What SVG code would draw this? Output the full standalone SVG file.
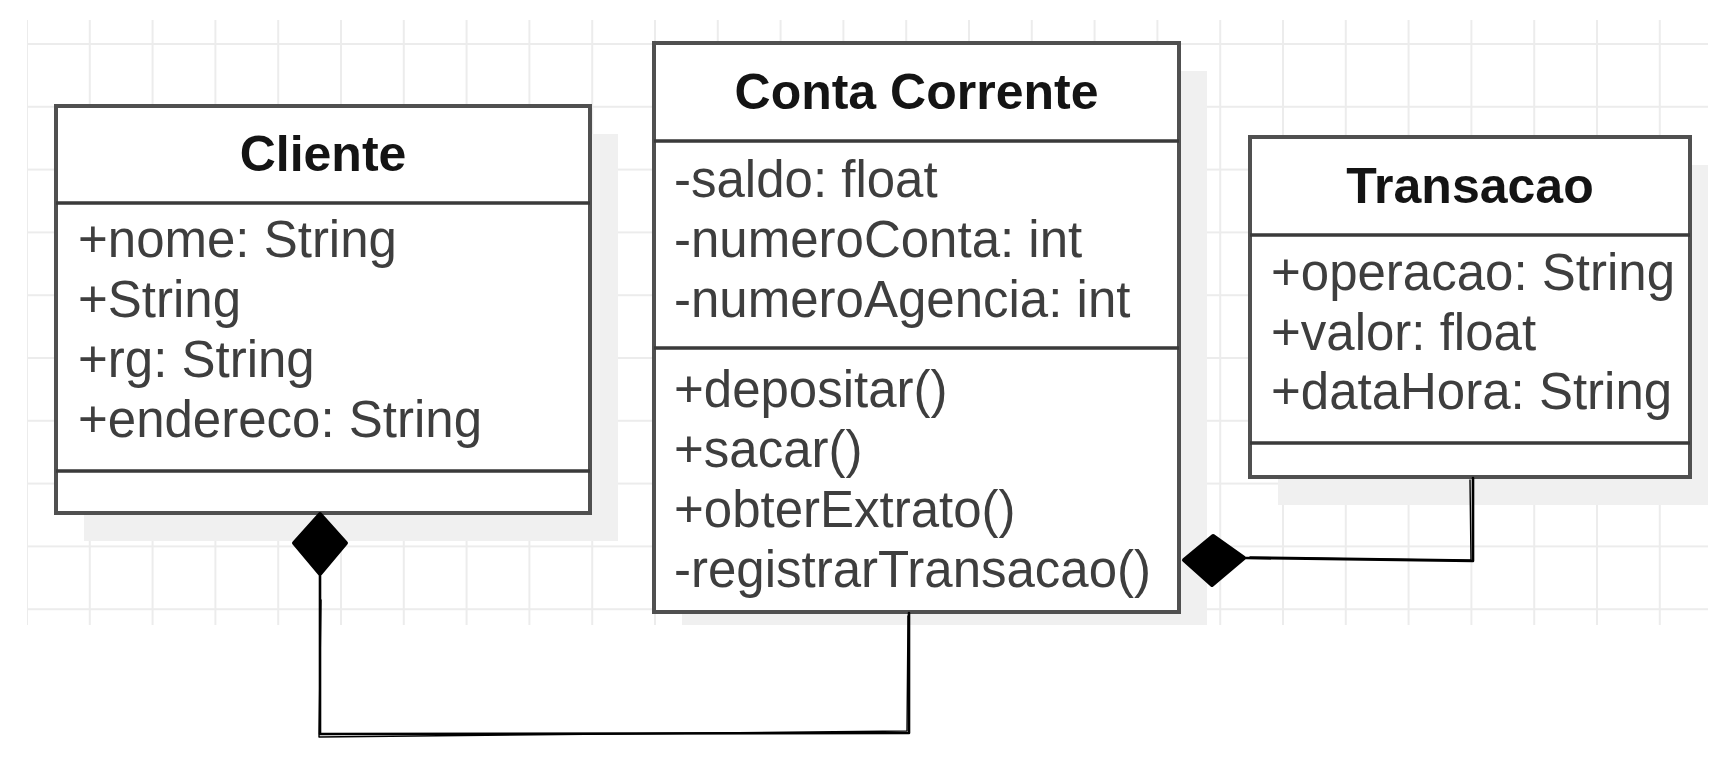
<svg xmlns="http://www.w3.org/2000/svg" width="1728" height="757" viewBox="0 0 1728 757">
  <defs>
    <pattern id="grid" x="26" y="43" width="62.8" height="62.8" patternUnits="userSpaceOnUse">
      <path d="M0 1H62.8M1 0V62.8" stroke="#ececec" stroke-width="2" fill="none"/>
    </pattern>
    <clipPath id="shot">
      <rect x="27" y="20" width="1681" height="605"/>
    </clipPath>
    <style>
      .shadow { fill: #f0f0f0; }
      .box { fill: #ffffff; stroke: #505050; stroke-width: 4; }
      .div { stroke: #3a3a3a; stroke-width: 3.5; fill: none; }
      .title { font-family: "Liberation Sans", Arial, sans-serif; font-weight: bold; font-size: 50px; fill: #141414; text-anchor: middle; }
      .attr { font-family: "Liberation Sans", Arial, sans-serif; font-size: 51px; fill: #3e3e3e; }
      .line { fill: none; stroke: #000; stroke-width: 2.6; stroke-linejoin: round; stroke-linecap: round; }
      .line2 { fill: none; stroke: #000; stroke-width: 1.4; stroke-linejoin: round; stroke-linecap: round; }
      .diamond { fill: #000; stroke: #000; stroke-width: 4; stroke-linejoin: round; }
    </style>
  </defs>

  <rect x="0" y="0" width="1728" height="757" fill="#ffffff"/>
  <g id="canvas">
    <rect x="27" y="20" width="1681" height="605" fill="url(#grid)"/>
  </g>

  <g id="cliente">
    <rect class="shadow" x="84" y="134" width="534" height="407" clip-path="url(#shot)"/>
    <rect class="box" x="56" y="106" width="534" height="407"/>
    <path class="div" d="M56 203H590M56 471H590"/>
    <text class="title" x="323" y="171">Cliente</text>
    <text class="attr" x="78" y="257">+nome: String</text>
    <text class="attr" x="78" y="317">+String</text>
    <text class="attr" x="78" y="377">+rg: String</text>
    <text class="attr" x="78" y="437">+endereco: String</text>
  </g>

  <g id="conta-corrente">
    <rect class="shadow" x="682" y="71" width="525" height="569" clip-path="url(#shot)"/>
    <rect class="box" x="654" y="43" width="525" height="569"/>
    <path class="div" d="M654 141H1179M654 348H1179"/>
    <text class="title" x="916.5" y="109">Conta Corrente</text>
    <text class="attr" x="674" y="197">-saldo: float</text>
    <text class="attr" x="674" y="257">-numeroConta: int</text>
    <text class="attr" x="674" y="317">-numeroAgencia: int</text>
    <text class="attr" x="674" y="407">+depositar()</text>
    <text class="attr" x="674" y="467">+sacar()</text>
    <text class="attr" x="674" y="527">+obterExtrato()</text>
    <text class="attr" x="674" y="587">-registrarTransacao()</text>
  </g>

  <g id="transacao">
    <rect class="shadow" x="1278" y="165" width="440" height="340" clip-path="url(#shot)"/>
    <rect class="box" x="1250" y="137" width="440" height="340"/>
    <path class="div" d="M1250 235H1690M1250 443H1690"/>
    <text class="title" x="1470" y="203">Transacao</text>
    <text class="attr" x="1271" y="290">+operacao: String</text>
    <text class="attr" x="1271" y="350">+valor: float</text>
    <text class="attr" x="1271" y="409">+dataHora: String</text>
  </g>

  <g id="connectors">
    <path class="line" d="M320 576L320 734L909 733L909 613"/>
    <path class="line2" d="M321 600L319 737L907 731L908 616"/>
    <path class="diamond" d="M320 514L346 543L320 574L294 543Z"/>
    <path class="line" d="M1246 558L1473 561L1473 478"/>
    <path class="line2" d="M1250 557L1471 560L1470 480"/>
    <path class="diamond" d="M1184 560L1213 536L1244 558L1212 585Z"/>
  </g>
</svg>
